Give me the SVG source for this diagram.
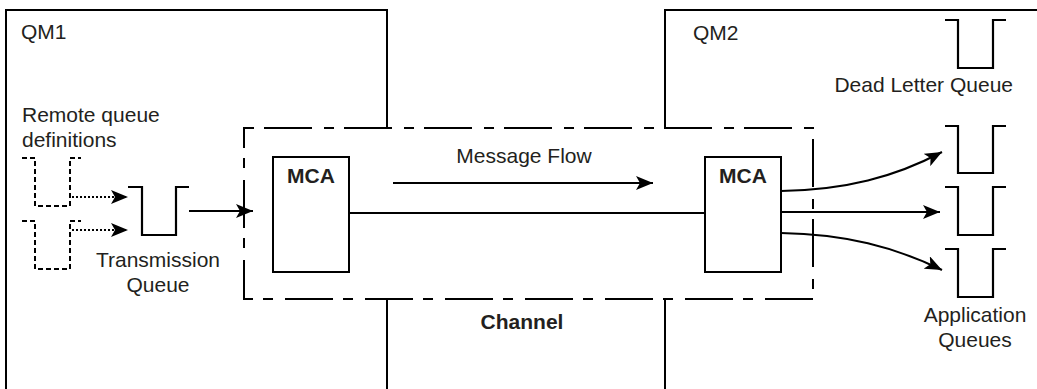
<svg xmlns="http://www.w3.org/2000/svg" width="1037" height="389" viewBox="0 0 1037 389">
<style>
.ln{fill:none;stroke:#000;stroke-width:2}
.q{fill:none;stroke:#000;stroke-width:2.2}
.dq{fill:none;stroke:#000;stroke-width:2;stroke-dasharray:5 3}
.t{font-family:"Liberation Sans",Arial,sans-serif;font-size:21px;fill:#231f20}
.b{font-family:"Liberation Sans",Arial,sans-serif;font-size:21px;font-weight:bold;fill:#231f20}
</style>
<defs>
<marker id="ah" markerUnits="userSpaceOnUse" markerWidth="18" markerHeight="14" refX="17" refY="7" orient="auto">
<path d="M0,0 L17,7 L0,14 L4,7 Z" fill="#000"/>
</marker>
</defs>
<g id="qm1">
<path class="ln" d="M6,389 V10 H387 V128"/>
<path class="ln" d="M387,299 V389"/>
<text class="t" x="21" y="39" font-size="20">QM1</text>
</g>
<g id="qm2">
<path class="ln" d="M665,128 V10 H1037"/>
<path class="ln" d="M665,299 V389"/>
<text class="t" x="693" y="40" font-size="20">QM2</text>
</g>
<g id="channel">
<path class="ln" d="M244,128 H813 V299 H244 Z" stroke-dasharray="48 12 10 10" stroke-dashoffset="-20"/>
<text class="b" x="522" y="329" text-anchor="middle">Channel</text>
</g>
<g id="mca1">
<rect class="ln" x="273" y="157" width="76" height="115"/>
<text class="b" x="311" y="183" text-anchor="middle">MCA</text>
</g>
<g id="mca2">
<rect class="ln" x="705" y="157" width="76" height="115"/>
<text class="b" x="743" y="183" text-anchor="middle">MCA</text>
</g>
<g id="remote-defs">
<path class="dq" d="M22,158 H35 V206 H70 V158 H81"/>
<path class="dq" d="M22,221 H35 V269 H70 V221 H81"/>
<text class="t" x="22" y="122">Remote queue</text>
<text class="t" x="22" y="147">definitions</text>
</g>
<g id="xmitq">
<path class="q" d="M128,187 H142 V235 H176 V187 H189"/>
<text class="t" x="158" y="267" text-anchor="middle">Transmission</text>
<text class="t" x="158" y="292" text-anchor="middle">Queue</text>
</g>
<g id="dlq">
<path class="q" d="M945,20 H958 V68 H993 V20 H1006"/>
<text class="t" x="1013" y="92" text-anchor="end">Dead Letter Queue</text>
</g>
<g id="appq">
<path class="q" d="M945,126 H958 V173 H993 V126 H1006"/>
<path class="q" d="M945,187 H958 V235 H993 V187 H1006"/>
<path class="q" d="M945,249 H958 V297 H993 V249 H1006"/>
<text class="t" x="975" y="322" text-anchor="middle">Application</text>
<text class="t" x="975" y="347" text-anchor="middle">Queues</text>
</g>
<g id="flow-label">
<text class="t" x="524" y="163" text-anchor="middle">Message Flow</text>
</g>
<g id="connectors">
<path class="ln" d="M72,197 H128" stroke-dasharray="2 2" marker-end="url(#ah)"/>
<path class="ln" d="M72,230 H128" stroke-dasharray="2 2" marker-end="url(#ah)"/>
<path class="ln" d="M189,211 H253" marker-end="url(#ah)"/>
<path class="ln" d="M349,213 H705"/>
<path class="ln" d="M393,183 H653" marker-end="url(#ah)"/>
<path class="ln" d="M781,191 C845,190 895,177 942,152" marker-end="url(#ah)"/>
<path class="ln" d="M781,212 H940" marker-end="url(#ah)"/>
<path class="ln" d="M781,233 C845,234 895,247 942,270" marker-end="url(#ah)"/>
</g>
</svg>
